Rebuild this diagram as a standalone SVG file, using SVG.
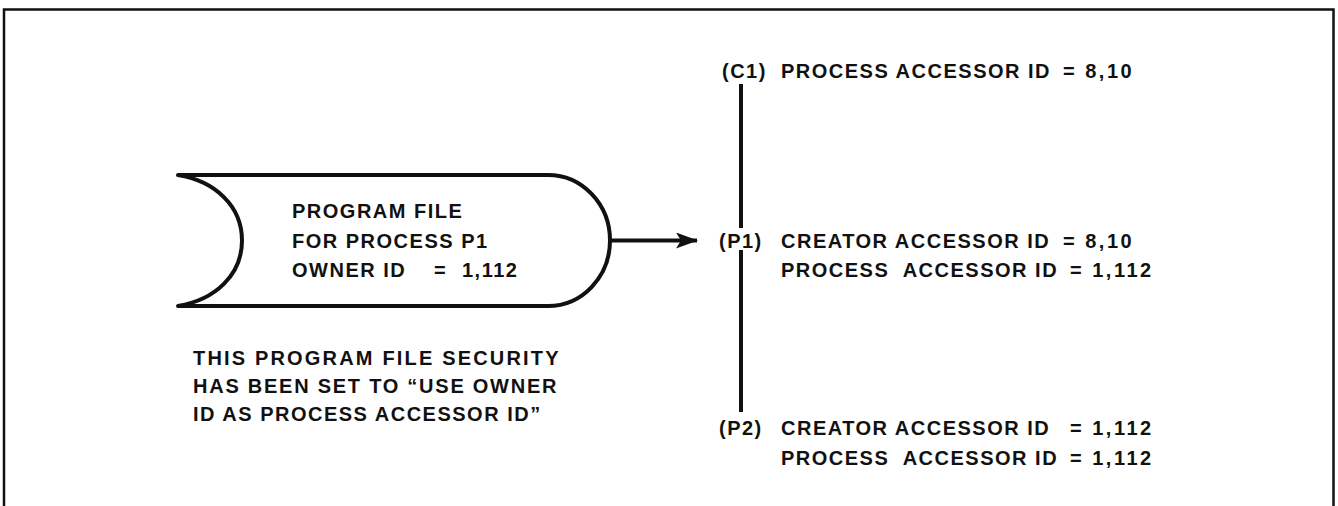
<svg xmlns="http://www.w3.org/2000/svg" width="1338" height="506" viewBox="0 0 1338 506">
<style>
text{font-family:"Liberation Sans",Arial,sans-serif;font-size:20px;font-weight:bold;fill:#111;letter-spacing:1.5px}
.num{letter-spacing:2.5px}
.frame{fill:none;stroke:#111;stroke-width:2.5}
.shape{fill:#fff;stroke:#111;stroke-width:4;stroke-linejoin:round}
.conn{stroke:#111;stroke-width:4;fill:none}
</style>
<defs>
<marker id="ah" viewBox="0 0 22 16" refX="21" refY="8" markerWidth="22" markerHeight="16" markerUnits="userSpaceOnUse" orient="auto">
<polygon points="22,8 0,0 5,8 0,16" fill="#111"/>
</marker>
</defs>
<path class="frame" d="M4,506 V9.5 H1333.5 V506"/>
<g id="program-file">
<path class="shape" d="M178,175 H548 A62 65.5 0 0 1 548,306 H178 C215,300 242,275 242,240.5 C242,206 215,181 178,175 Z"/>
<text x="292" y="218">PROGRAM FILE</text>
<text x="292" y="248">FOR PROCESS P1</text>
<text x="292" y="277">OWNER ID</text>
<text x="434" y="277">=</text>
<text x="462" y="277">1,112</text>
</g>
<g id="note">
<text x="193" y="365" textLength="367" lengthAdjust="spacing">THIS PROGRAM FILE SECURITY</text>
<text x="193" y="393" textLength="365" lengthAdjust="spacing">HAS BEEN SET TO “USE OWNER</text>
<text x="193" y="421">ID AS PROCESS ACCESSOR ID”</text>
</g>
<g id="connectors">
<path class="conn" d="M610,240.5 H697" marker-end="url(#ah)"/>
<path class="conn" d="M741,84 V228"/>
<path class="conn" d="M741,250 V412"/>
</g>
<g id="c1">
<text x="722" y="78">(C1)</text>
<text x="781" y="78">PROCESS ACCESSOR ID</text>
<text class="num" x="1063" y="78">= 8,10</text>
</g>
<g id="p1">
<text x="719" y="248">(P1)</text>
<text x="781" y="248">CREATOR ACCESSOR ID</text>
<text class="num" x="1063" y="248">= 8,10</text>
<text x="781" y="277">PROCESS&#160; ACCESSOR ID</text>
<text class="num" x="1070" y="277">= 1,112</text>
</g>
<g id="p2">
<text x="719" y="435">(P2)</text>
<text x="781" y="435">CREATOR ACCESSOR ID</text>
<text class="num" x="1070" y="435">= 1,112</text>
<text x="781" y="465">PROCESS&#160; ACCESSOR ID</text>
<text class="num" x="1070" y="465">= 1,112</text>
</g>
</svg>
